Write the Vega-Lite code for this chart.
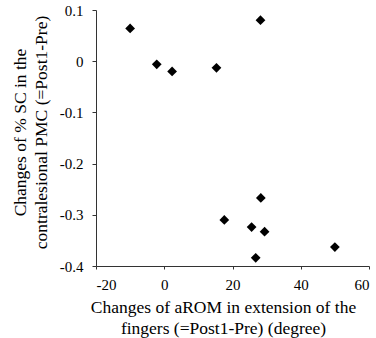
{
  "$schema": "https://vega.github.io/schema/vega-lite/v6.json",
  "autosize": {"type": "none"},
  "width": 273,
  "height": 256,
  "padding": {"left": 96, "top": 10, "right": 7, "bottom": 72},
  "background": "white",
  "config": {
    "view": {"stroke": null},
    "font": "Liberation Serif",
    "axis": {
      "grid": false,
      "labelFont": "Liberation Serif",
      "titleFont": "Liberation Serif",
      "labelFontSize": 15,
      "titleFontSize": 17.5,
      "titleFontWeight": "normal",
      "labelColor": "#000",
      "titleColor": "#000",
      "domainColor": "#333",
      "tickColor": "#333",
      "titleLineHeight": 21
    }
  },
  "data": {
    "values": [
      {"rom": -10.0, "sc": 0.064},
      {"rom": -2.2, "sc": -0.006},
      {"rom": 2.3, "sc": -0.02},
      {"rom": 15.3, "sc": -0.013},
      {"rom": 28.2, "sc": 0.08},
      {"rom": 28.3, "sc": -0.267},
      {"rom": 17.6, "sc": -0.31},
      {"rom": 25.6, "sc": -0.324},
      {"rom": 29.4, "sc": -0.333},
      {"rom": 50.0, "sc": -0.363},
      {"rom": 26.8, "sc": -0.384}
    ]
  },
  "mark": {"type": "point", "shape": "diamond", "filled": true, "size": 95, "color": "#000", "opacity": 1},
  "encoding": {
    "x": {
      "field": "rom",
      "type": "quantitative",
      "scale": {"domain": [-20, 60], "nice": false, "zero": false},
      "axis": {
        "values": [-20, 0, 20, 40, 60],
        "tickSize": 3,
        "labelPadding": 8,
        "labelFont": "Liberation Serif",
        "titleFont": "Liberation Serif",
        "labelExpr": "replace(format(datum.value, 'd'), '\u2212', '-')",
        "title": ["Changes of aROM in extension of the", "fingers (=Post1-Pre) (degree)"],
        "titleAnchor": "middle",
        "titleAlign": "center",
        "titleBaseline": "middle",
        "titleX": 127,
        "titleY": 41
      }
    },
    "y": {
      "field": "sc",
      "type": "quantitative",
      "scale": {"domain": [-0.4, 0.1], "nice": false, "zero": false},
      "axis": {
        "values": [-0.4, -0.3, -0.2, -0.1, 0, 0.1],
        "tickSize": 4,
        "labelPadding": 9,
        "labelFont": "Liberation Serif",
        "titleFont": "Liberation Serif",
        "labelExpr": "datum.value == 0 ? '0' : replace(format(datum.value, '.1f'), '\u2212', '-')",
        "title": ["Changes of % SC in the", "contralesional PMC (=Post1-Pre)"],
        "titleAngle": -90,
        "titleAlign": "center",
        "titleBaseline": "middle",
        "titleX": -76,
        "titleY": 122
      }
    }
  }
}
